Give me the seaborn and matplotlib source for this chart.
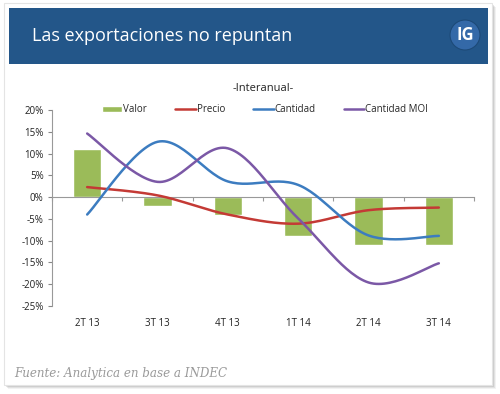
import numpy as np
import pandas as pd
import matplotlib
matplotlib.use("Agg")
import matplotlib.pyplot as plt
from matplotlib.patches import Rectangle, Ellipse
import seaborn as sns

# data (interannual % change)
trimestres = ["2T 13", "3T 13", "4T 13", "1T 14", "2T 14", "3T 14"]
valor = [11, -2, -4, -9, -11, -11]
precio = [2.3, 0.4, -4, -6.1, -3, -2.4]
cantidad = [-4, 12.7, 3.6, 2.8, -8.8, -8.9]
cantidad_moi = [14.6, 3.5, 11.2, -4.9, -19.6, -15.2]
y_ticks = [20, 15, 10, 5, 0, -5, -10, -15, -20, -25]

W, H = 500, 394


def fx(px):
    return px / W


def fy(py):
    return 1 - py / H


def smooth(y, n=30):
    """Excel-style smoothed line (cubic Bezier, tension 1/6)."""
    x = np.arange(len(y), dtype=float)
    y = np.asarray(y, dtype=float)
    pts = np.column_stack([x, y])
    ext = np.vstack([pts[0], pts, pts[-1]])
    out = []
    t = np.linspace(0, 1, n)[:, None]
    for i in range(len(pts) - 1):
        p0, p1, p2, p3 = ext[i], ext[i + 1], ext[i + 2], ext[i + 3]
        c1 = p1 + (p2 - p0) / 6
        c2 = p2 - (p3 - p1) / 6
        seg = ((1 - t) ** 3) * p1 + 3 * ((1 - t) ** 2) * t * c1 + 3 * (1 - t) * t ** 2 * c2 + t ** 3 * p2
        out.append(seg if i == 0 else seg[1:])
    out = np.vstack(out)
    return out[:, 0], out[:, 1]


sns.set_style("white")
plt.rcParams["font.family"] = ["Open Sans", "DejaVu Sans"]

fig = plt.figure(figsize=(W / 100, H / 100), dpi=100)
fig.patch.set_facecolor("white")

# card with soft shadow
for k, a in [(4, 0.10), (3, 0.15), (2, 0.2)]:
    fig.add_artist(Rectangle((fx(4 + k), fy(385 + k)), fx(488), (385 - 3) / H,
                             transform=fig.transFigure, facecolor="#808080",
                             edgecolor="none", alpha=a, zorder=0))
fig.add_artist(Rectangle((fx(4), fy(385)), fx(488), (385 - 3) / H,
                         transform=fig.transFigure, facecolor="white",
                         edgecolor="#e4e4e4", lw=0.8, zorder=0.5))

# header band
fig.add_artist(Rectangle((fx(9), fy(64)), fx(479), (64 - 8) / H,
                         transform=fig.transFigure, facecolor="#235689",
                         edgecolor="none", zorder=1))
fig.text(fx(32), fy(36), "Las exportaciones no repuntan", color="white",
         fontsize=13, va="center", ha="left", zorder=2)
fig.add_artist(Ellipse((fx(465), fy(35)), 30 / W, 30 / H, transform=fig.transFigure,
                       facecolor="#3469a8", edgecolor="#1d4a78", lw=0.8, zorder=2))
fig.text(fx(465), fy(35), "IG", color="white", fontsize=12, fontweight="bold",
         ha="center", va="center", zorder=3)

# chart
ax = fig.add_axes([fx(52), fy(306), fx(474) - fx(52), fy(110) - fy(306)])
ax.set_facecolor("none")
ax.set_zorder(5)

df = pd.DataFrame({"trimestre": trimestres, "valor": valor})
sns.barplot(data=df, x="trimestre", y="valor", color="#9bbb59", width=0.4,
            saturation=1, ax=ax, label="Valor", zorder=2)

series = [("Precio", precio, "#c43a35"),
          ("Cantidad", cantidad, "#3c7cc0"),
          ("Cantidad MOI", cantidad_moi, "#7b58a6")]
for name, vals, col in series:
    xs, ys = smooth(vals)
    sns.lineplot(x=xs, y=ys, ax=ax, color=col, lw=1.8, label=name, sort=False,
                 zorder=3)

ax.set_xlim(-0.5, len(trimestres) - 0.5)
ax.set_ylim(-25, 20)
ax.set_yticks(y_ticks)
ax.set_yticklabels([f"{v}%" for v in y_ticks], fontsize=7, color="#222222")
ax.tick_params(axis="y", length=3, width=0.8, color="#888888", pad=3, left=True)

# zero axis with ticks between categories
ax.spines["bottom"].set_position(("data", 0))
ax.spines["bottom"].set_color("#999999")
ax.spines["left"].set_color("#999999")
ax.spines["top"].set_visible(False)
ax.spines["right"].set_visible(False)
ax.set_xticks(np.arange(-0.5, len(trimestres), 1))
ax.set_xticklabels([])
ax.tick_params(axis="x", length=3, width=0.8, color="#999999", bottom=True)
ax.set_xlabel("")
ax.set_ylabel("")

sec = ax.secondary_xaxis("bottom")
sec.set_xticks(range(len(trimestres)), labels=trimestres)
sec.tick_params(length=0, pad=9, labelsize=7, labelcolor="#222222")
sec.spines["bottom"].set_visible(False)

ax.set_title("-Interanual-", fontsize=8, color="#222222", pad=14)

# legend: Valor first, as in the original
handles, labels = ax.get_legend_handles_labels()
order = [labels.index(l) for l in ["Valor", "Precio", "Cantidad", "Cantidad MOI"]]
ax.legend([handles[i] for i in order], [labels[i] for i in order],
          loc="center", bbox_to_anchor=(0.505, 1.0), ncol=4, frameon=False,
          fontsize=7, handlelength=2.1, handletextpad=0.1, columnspacing=2.9,
          handleheight=0.45)

fig.text(fx(14), fy(374), "Fuente: Analytica en base a INDEC", color="#9a9a9a",
         fontsize=8.6, style="italic", family="DejaVu Serif", ha="left", va="center")

fig.savefig("out.png", dpi=100)
